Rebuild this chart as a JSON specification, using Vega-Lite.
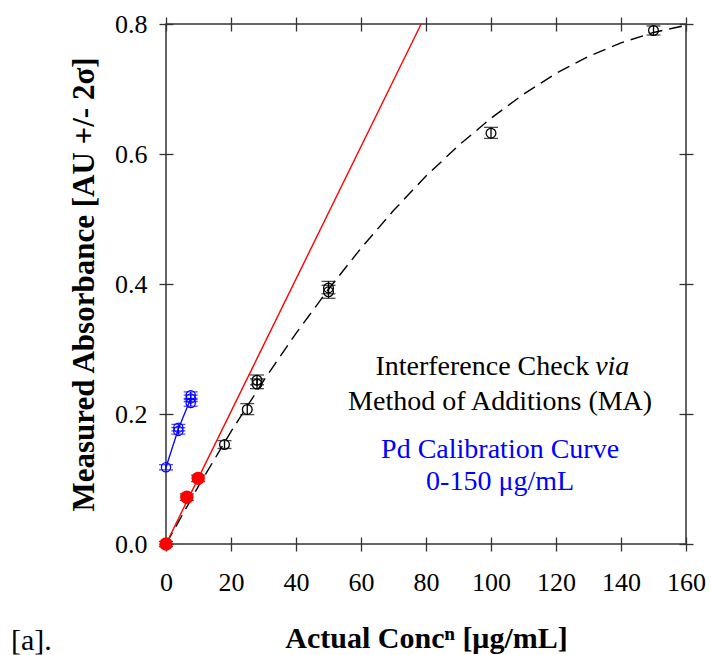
{
  "$schema": "https://vega.github.io/schema/vega-lite/v6.json",
  "width": 520,
  "height": 520,
  "autosize": "none",
  "padding": {"left": 166, "top": 24, "right": 25, "bottom": 111},
  "background": "white",
  "config": {
    "view": {"stroke": "#333", "strokeWidth": 1.5},
    "font": "Liberation Serif",
    "axis": {"grid": false, "domain": false, "tickColor": "#333", "tickWidth": 1.3, "labelColor": "black", "titleColor": "black", "labelFont": "Liberation Serif", "titleFont": "Liberation Serif", "labelOverlap": false, "labelFlush": false}
  },
  "datasets": {
    "curve": [
      {"x": 0, "y": 0}, {"x": 10, "y": 0.089}, {"x": 20, "y": 0.173}, {"x": 30, "y": 0.251},
      {"x": 40, "y": 0.324}, {"x": 50, "y": 0.392}, {"x": 60, "y": 0.455}, {"x": 70, "y": 0.513},
      {"x": 80, "y": 0.566}, {"x": 90, "y": 0.613}, {"x": 100, "y": 0.655}, {"x": 110, "y": 0.692},
      {"x": 120, "y": 0.724}, {"x": 130, "y": 0.750}, {"x": 140, "y": 0.771}, {"x": 150, "y": 0.787},
      {"x": 160, "y": 0.798}
    ],
    "redline": [{"x": 0, "y": 0}, {"x": 78.5, "y": 0.8}],
    "ma": [
      {"x": 0, "y": 0.0, "lo": -0.004, "hi": 0.004},
      {"x": 6.4, "y": 0.072, "lo": 0.067, "hi": 0.077},
      {"x": 9.9, "y": 0.101, "lo": 0.096, "hi": 0.106},
      {"x": 18, "y": 0.153, "lo": 0.147, "hi": 0.159},
      {"x": 25, "y": 0.207, "lo": 0.199, "hi": 0.216},
      {"x": 28, "y": 0.246, "lo": 0.239, "hi": 0.254},
      {"x": 28, "y": 0.252, "lo": 0.245, "hi": 0.260},
      {"x": 50, "y": 0.388, "lo": 0.378, "hi": 0.398},
      {"x": 50, "y": 0.394, "lo": 0.385, "hi": 0.404},
      {"x": 100, "y": 0.632, "lo": 0.624, "hi": 0.641},
      {"x": 150, "y": 0.790, "lo": 0.783, "hi": 0.797}
    ],
    "red": [
      {"x": 0, "y": 0.0},
      {"x": 6.4, "y": 0.072},
      {"x": 9.9, "y": 0.101}
    ],
    "blue": [
      {"x": 0, "y": 0.118, "lo": 0.114, "hi": 0.122},
      {"x": 3.8, "y": 0.174, "lo": 0.169, "hi": 0.179},
      {"x": 3.8, "y": 0.179, "lo": 0.174, "hi": 0.184},
      {"x": 7.6, "y": 0.217, "lo": 0.212, "hi": 0.222},
      {"x": 7.6, "y": 0.224, "lo": 0.219, "hi": 0.229},
      {"x": 7.6, "y": 0.229, "lo": 0.224, "hi": 0.234}
    ],
    "blueline": [
      {"x": 0, "y": 0.118}, {"x": 3.8, "y": 0.177}, {"x": 7.6, "y": 0.224}
    ],
    "notes_black": [
      {"x": 102.8, "y": 0.219, "label": "Method of Additions (MA)"}
    ],
    "notes_blue": [
      {"x": 102.8, "y": 0.1446, "label": "Pd Calibration Curve"},
      {"x": 102.8, "y": 0.0958, "label": "0-150 μg/mL"}
    ],
    "note_ic": [{"x": 130.2, "y": 0.2728, "label": "Interference Check"}],
    "note_via": [{"x": 130.2, "y": 0.2728, "label": "via"}],
    "panel": [{"x": -41.4, "y": -0.163, "label": "[a]."}]
  },
  "layer": [
    {
      "data": {"name": "curve"},
      "mark": {"type": "line", "color": "black", "strokeWidth": 1.4, "strokeDash": [13, 7]},
      "encoding": {
        "x": {"field": "x", "type": "quantitative",
          "scale": {"domain": [0, 160], "nice": false, "zero": false},
          "axis": {"orient": "bottom", "title": "Actual Concⁿ [μg/mL]", "values": [0, 20, 40, 60, 80, 100, 120, 140, 160],
            "offset": -7, "tickSize": 14, "labelFontSize": 26, "labelPadding": 18,
            "titleFontSize": 30, "titleFontWeight": "bold", "titlePadding": 28}},
        "y": {"field": "y", "type": "quantitative",
          "scale": {"domain": [0, 0.8], "nice": false, "zero": false},
          "axis": {"orient": "left", "title": "Measured Absorbance [AU +/- 2σ]", "values": [0, 0.2, 0.4, 0.6, 0.8], "format": ".1f",
            "offset": -7, "tickSize": 14, "labelFontSize": 26, "labelPadding": 12,
            "titleFontSize": 31, "titleFontWeight": "bold", "titlePadding": 14}}
      }
    },
    {
      "data": {"name": "redline"},
      "mark": {"type": "line", "color": "#ff0000", "strokeWidth": 1.4},
      "encoding": {
        "x": {"field": "x", "type": "quantitative",
          "scale": {"domain": [0, 160], "nice": false, "zero": false},
          "axis": {"orient": "top", "title": null, "labels": false, "values": [0, 20, 40, 60, 80, 100, 120, 140, 160], "offset": -7, "tickSize": 14}},
        "y": {"field": "y", "type": "quantitative",
          "scale": {"domain": [0, 0.8], "nice": false, "zero": false},
          "axis": {"orient": "right", "title": null, "labels": false, "values": [0, 0.2, 0.4, 0.6, 0.8], "offset": -7, "tickSize": 14}}
      }
    },
    {
      "data": {"name": "ma"},
      "mark": {"type": "rule", "color": "black", "strokeWidth": 1.3},
      "encoding": {
        "x": {"field": "x", "type": "quantitative", "scale": {"domain": [0, 160], "nice": false, "zero": false}, "axis": null},
        "y": {"field": "lo", "type": "quantitative", "scale": {"domain": [0, 0.8], "nice": false, "zero": false}, "axis": null},
        "y2": {"field": "hi"}
      }
    },
    {
      "data": {"name": "ma"},
      "mark": {"type": "tick", "orient": "horizontal", "color": "black", "size": 14, "thickness": 1.3},
      "encoding": {
        "x": {"field": "x", "type": "quantitative", "scale": {"domain": [0, 160], "nice": false, "zero": false}, "axis": null},
        "y": {"field": "lo", "type": "quantitative", "scale": {"domain": [0, 0.8], "nice": false, "zero": false}, "axis": null}
      }
    },
    {
      "data": {"name": "ma"},
      "mark": {"type": "tick", "orient": "horizontal", "color": "black", "size": 14, "thickness": 1.3},
      "encoding": {
        "x": {"field": "x", "type": "quantitative", "scale": {"domain": [0, 160], "nice": false, "zero": false}, "axis": null},
        "y": {"field": "hi", "type": "quantitative", "scale": {"domain": [0, 0.8], "nice": false, "zero": false}, "axis": null}
      }
    },
    {
      "data": {"name": "ma"},
      "mark": {"type": "point", "shape": "circle", "filled": false, "color": "black", "size": 95, "strokeWidth": 1.3, "opacity": 1},
      "encoding": {
        "x": {"field": "x", "type": "quantitative", "scale": {"domain": [0, 160], "nice": false, "zero": false}, "axis": null},
        "y": {"field": "y", "type": "quantitative", "scale": {"domain": [0, 0.8], "nice": false, "zero": false}, "axis": null}
      }
    },
    {
      "data": {"name": "blueline"},
      "mark": {"type": "line", "color": "#0000ff", "strokeWidth": 1.3},
      "encoding": {
        "x": {"field": "x", "type": "quantitative", "scale": {"domain": [0, 160], "nice": false, "zero": false}, "axis": null},
        "y": {"field": "y", "type": "quantitative", "scale": {"domain": [0, 0.8], "nice": false, "zero": false}, "axis": null}
      }
    },
    {
      "data": {"name": "blue"},
      "mark": {"type": "rule", "color": "#0000ff", "strokeWidth": 1.3},
      "encoding": {
        "x": {"field": "x", "type": "quantitative", "scale": {"domain": [0, 160], "nice": false, "zero": false}, "axis": null},
        "y": {"field": "lo", "type": "quantitative", "scale": {"domain": [0, 0.8], "nice": false, "zero": false}, "axis": null},
        "y2": {"field": "hi"}
      }
    },
    {
      "data": {"name": "blue"},
      "mark": {"type": "tick", "orient": "horizontal", "color": "#0000ff", "size": 14, "thickness": 1.3},
      "encoding": {
        "x": {"field": "x", "type": "quantitative", "scale": {"domain": [0, 160], "nice": false, "zero": false}, "axis": null},
        "y": {"field": "lo", "type": "quantitative", "scale": {"domain": [0, 0.8], "nice": false, "zero": false}, "axis": null}
      }
    },
    {
      "data": {"name": "blue"},
      "mark": {"type": "tick", "orient": "horizontal", "color": "#0000ff", "size": 14, "thickness": 1.3},
      "encoding": {
        "x": {"field": "x", "type": "quantitative", "scale": {"domain": [0, 160], "nice": false, "zero": false}, "axis": null},
        "y": {"field": "hi", "type": "quantitative", "scale": {"domain": [0, 0.8], "nice": false, "zero": false}, "axis": null}
      }
    },
    {
      "data": {"name": "blue"},
      "mark": {"type": "point", "shape": "circle", "filled": false, "color": "#0000ff", "size": 85, "strokeWidth": 1.3, "opacity": 1},
      "encoding": {
        "x": {"field": "x", "type": "quantitative", "scale": {"domain": [0, 160], "nice": false, "zero": false}, "axis": null},
        "y": {"field": "y", "type": "quantitative", "scale": {"domain": [0, 0.8], "nice": false, "zero": false}, "axis": null}
      }
    },
    {
      "data": {"name": "red"},
      "mark": {"type": "point", "shape": "circle", "filled": true, "color": "#ff0000", "size": 180, "opacity": 1},
      "encoding": {
        "x": {"field": "x", "type": "quantitative", "scale": {"domain": [0, 160], "nice": false, "zero": false}, "axis": null},
        "y": {"field": "y", "type": "quantitative", "scale": {"domain": [0, 0.8], "nice": false, "zero": false}, "axis": null}
      }
    },
    {
      "data": {"name": "notes_black"},
      "mark": {"type": "text", "color": "black", "font": "Liberation Serif", "fontSize": 28, "align": "center", "baseline": "middle"},
      "encoding": {
        "x": {"field": "x", "type": "quantitative", "scale": {"domain": [0, 160], "nice": false, "zero": false}, "axis": null},
        "y": {"field": "y", "type": "quantitative", "scale": {"domain": [0, 0.8], "nice": false, "zero": false}, "axis": null},
        "text": {"field": "label"}
      }
    },
    {
      "data": {"name": "note_ic"},
      "mark": {"type": "text", "color": "black", "font": "Liberation Serif", "fontSize": 28, "align": "right", "baseline": "middle"},
      "encoding": {
        "x": {"field": "x", "type": "quantitative", "scale": {"domain": [0, 160], "nice": false, "zero": false}, "axis": null},
        "y": {"field": "y", "type": "quantitative", "scale": {"domain": [0, 0.8], "nice": false, "zero": false}, "axis": null},
        "text": {"field": "label"}
      }
    },
    {
      "data": {"name": "note_via"},
      "mark": {"type": "text", "color": "black", "font": "Liberation Serif", "fontSize": 28, "fontStyle": "italic", "align": "left", "baseline": "middle", "dx": 6},
      "encoding": {
        "x": {"field": "x", "type": "quantitative", "scale": {"domain": [0, 160], "nice": false, "zero": false}, "axis": null},
        "y": {"field": "y", "type": "quantitative", "scale": {"domain": [0, 0.8], "nice": false, "zero": false}, "axis": null},
        "text": {"field": "label"}
      }
    },
    {
      "data": {"name": "notes_blue"},
      "mark": {"type": "text", "color": "#0000ff", "font": "Liberation Serif", "fontSize": 28, "align": "center", "baseline": "middle"},
      "encoding": {
        "x": {"field": "x", "type": "quantitative", "scale": {"domain": [0, 160], "nice": false, "zero": false}, "axis": null},
        "y": {"field": "y", "type": "quantitative", "scale": {"domain": [0, 0.8], "nice": false, "zero": false}, "axis": null},
        "text": {"field": "label"}
      }
    },
    {
      "data": {"name": "panel"},
      "mark": {"type": "text", "color": "black", "font": "Liberation Serif", "fontSize": 30, "align": "center", "baseline": "alphabetic"},
      "encoding": {
        "x": {"field": "x", "type": "quantitative", "scale": {"domain": [0, 160], "nice": false, "zero": false}, "axis": null},
        "y": {"field": "y", "type": "quantitative", "scale": {"domain": [0, 0.8], "nice": false, "zero": false}, "axis": null},
        "text": {"field": "label"}
      }
    }
  ],
  "resolve": {"axis": {"x": "independent", "y": "independent"}}
}
